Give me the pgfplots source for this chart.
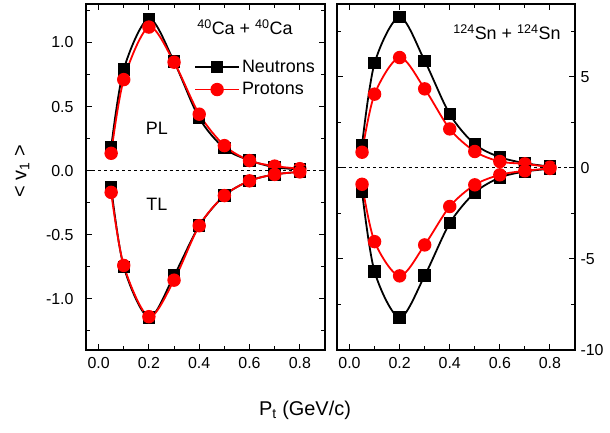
\documentclass[border=0pt]{standalone}
\usepackage{fontspec}
\setmainfont{Liberation Sans}
\usepackage{pgfplots}
\pgfplotsset{compat=1.18}
\begin{document}
\begin{tikzpicture}
\useasboundingbox (0bp,0bp) rectangle (610bp,433bp);
\pgfplotsset{
  panel/.style={
    scale only axis, width=238bp, height=346bp,
    xmin=-0.05, xmax=0.9,
    xtick={0,0.2,0.4,0.6,0.8}, minor xtick={0.1,0.3,0.5,0.7},
    tick align=inside, tick pos=both,
    major tick length=6bp, minor tick length=4bp,
    every tick/.style={black, line width=1bp},
    axis line style={line width=1.3bp},
    /pgf/number format/assume math mode=true,
    tick label style={font=\fontsize{16}{19}\selectfont},
    xticklabel style={/pgf/number format/fixed, /pgf/number format/fixed zerofill, /pgf/number format/precision=1, yshift=-4bp},
  },
  neu/.style={black, line width=1.8bp, smooth, mark=square*, mark size=5.3bp, mark options={solid}},
  pro/.style={red, line width=1.8bp, smooth, mark=*, mark size=5.8bp, mark options={solid}},
}
% Left panel: Ca + Ca
\begin{axis}[panel, at={(86bp,83bp)}, anchor=south west, width=239bp,
  ymin=-1.4, ymax=1.3,
  ytick={-1,-0.5,0,0.5,1}, minor ytick={-1.25,-0.75,-0.25,0.25,0.75,1.25},
  yticklabel pos=left,
  yticklabel style={/pgf/number format/fixed, /pgf/number format/fixed zerofill, /pgf/number format/precision=1, xshift=-9bp},
  legend style={draw=none, fill=none, at={(rel axis cs:0.452,0.845)}, anchor=north west,
    font=\fontsize{18}{21}\selectfont, row sep=5bp, inner sep=0pt},
  legend cell align=left,
  legend image code/.code={\draw[mark repeat=2, mark phase=2, #1] plot coordinates {(0bp,0bp) (22bp,0bp) (44bp,0bp)};},
]
\draw[dashed, line width=0.8bp] (axis cs:-0.05,0) -- (axis cs:0.9,0);
\addplot[neu] coordinates {(0.05,0.18) (0.1,0.79) (0.2,1.185) (0.3,0.85) (0.4,0.41) (0.5,0.174) (0.6,0.08) (0.7,0.026) (0.8,0.01)};
\addlegendentry{Neutrons}
\addplot[pro] coordinates {(0.05,0.135) (0.1,0.71) (0.2,1.12) (0.3,0.846) (0.4,0.44) (0.5,0.195) (0.6,0.078) (0.7,0.035) (0.8,0.015)};
\addlegendentry{Protons}
\addplot[neu, forget plot] coordinates {(0.05,-0.13) (0.1,-0.75) (0.2,-1.146) (0.3,-0.82) (0.4,-0.43) (0.5,-0.195) (0.6,-0.08) (0.7,-0.03) (0.8,-0.01)};
\addplot[pro, forget plot] coordinates {(0.05,-0.17) (0.1,-0.74) (0.2,-1.14) (0.3,-0.855) (0.4,-0.43) (0.5,-0.195) (0.6,-0.08) (0.7,-0.03) (0.8,-0.01)};
\node[font=\fontsize{18}{21}\selectfont] at (rel axis cs:0.665,0.934) {\textsuperscript{40}Ca + \textsuperscript{40}Ca};
\node[font=\fontsize{18}{21}\selectfont] at (axis cs:0.232,0.33) {PL};
\node[font=\fontsize{18}{21}\selectfont] at (axis cs:0.232,-0.266) {TL};
\end{axis}
% Right panel: Sn + Sn
\begin{axis}[panel, at={(337bp,83bp)}, anchor=south west,
  ymin=-10, ymax=9,
  ytick={-10,-5,0,5}, minor ytick={-7.5,-2.5,2.5,7.5},
  yticklabel pos=right,
  yticklabel style={xshift=2bp},
]
\draw[dashed, line width=0.8bp] (axis cs:-0.05,0) -- (axis cs:0.9,0);
\addplot[neu] coordinates {(0.05,1.26) (0.1,5.75) (0.2,8.28) (0.3,5.88) (0.4,2.95) (0.5,1.3) (0.6,0.59) (0.7,0.26) (0.8,0.07)};
\addplot[pro] coordinates {(0.05,0.86) (0.1,4.05) (0.2,6.06) (0.3,4.34) (0.4,2.14) (0.5,0.9) (0.6,0.35) (0.7,0.22) (0.8,0.04)};
\addplot[neu] coordinates {(0.05,-1.3) (0.1,-5.7) (0.2,-8.22) (0.3,-5.92) (0.4,-3.04) (0.5,-1.36) (0.6,-0.53) (0.7,-0.2) (0.8,-0.05)};
\addplot[pro] coordinates {(0.05,-0.9) (0.1,-4.05) (0.2,-5.93) (0.3,-4.23) (0.4,-2.12) (0.5,-0.93) (0.6,-0.38) (0.7,-0.16) (0.8,-0.03)};
\node[font=\fontsize{18}{21}\selectfont] at (rel axis cs:0.714,0.919) {\textsuperscript{124}Sn + \textsuperscript{124}Sn};
\end{axis}
\node[font=\fontsize{20}{24}\selectfont] at (305bp,23bp) {P\textsubscript{t} (GeV/c)};
\node[font=\fontsize{20}{24}\selectfont, rotate=90] at (22bp,262bp) {< v\textsubscript{1} >};
\end{tikzpicture}
\end{document}
